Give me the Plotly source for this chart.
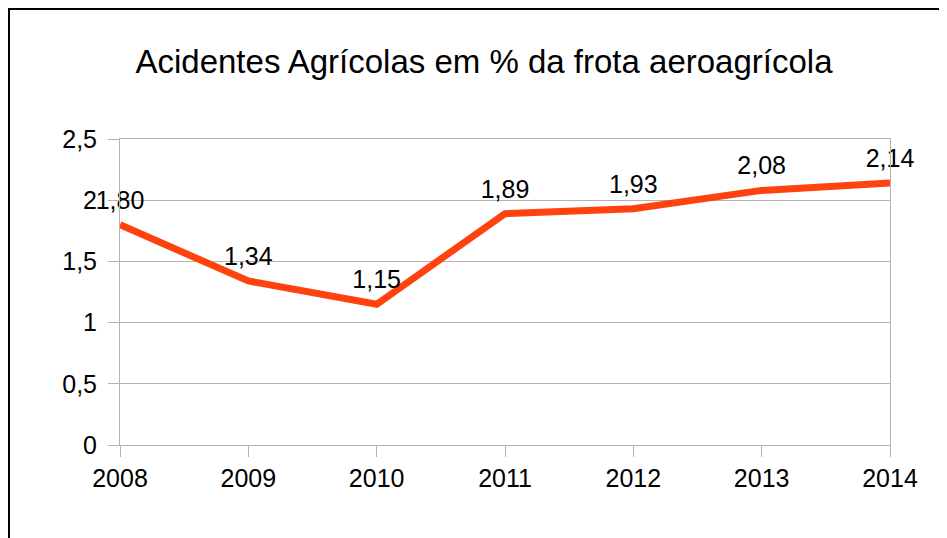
import plotly.graph_objects as go

years = [2008, 2009, 2010, 2011, 2012, 2013, 2014]
values = [1.80, 1.34, 1.15, 1.89, 1.93, 2.08, 2.14]
labels = ["1,80", "1,34", "1,15", "1,89", "1,93", "2,08", "2,14"]
title_text = "Acidentes Agrícolas em % da frota aeroagrícola"

# page has 8px body margin; compensate so the chart lands at the window origin
OFF = 8
W, H = 947 - OFF, 538 - OFF
L, R, T, B = 120 - OFF, 57, 139 - OFF, 93
pw, ph = W - L - R, H - T - B

fig = go.Figure()
fig.add_trace(go.Scatter(
    x=years, y=values, mode="lines+markers+text",
    text=labels, textposition="top center",
    textfont=dict(family="Liberation Sans, Arial", size=25, color="#000000"),
    line=dict(color="#FF420E", width=7),
    marker=dict(size=14, color="rgba(0,0,0,0)"),
    cliponaxis=False, showlegend=False, hoverinfo="skip",
))

def px_x(p):
    return (p - OFF - L) / pw

def px_y(p):
    return (H - B - (p - OFF)) / ph

fig.add_shape(type="rect", xref="paper", yref="paper",
              x0=px_x(9), x1=px_x(970), y0=px_y(9), y1=px_y(580),
              line=dict(color="#000000", width=2), layer="below")

fig.update_layout(
    width=W, height=H,
    margin=dict(l=L, r=R, t=T, b=B),
    paper_bgcolor="white", plot_bgcolor="white",
    separators=",.",
    font=dict(family="Liberation Sans, Arial", size=25, color="#000000"),
    title=dict(text=title_text, x=(484 - OFF) / W, xanchor="center",
               y=1 - (61 - OFF) / H, yanchor="middle", yref="container",
               font=dict(size=33, color="#000000")),
    xaxis=dict(range=[2008, 2014], tickmode="array", tickvals=years,
               ticktext=[str(y) for y in years],
               showgrid=False, zeroline=False,
               showline=True, linecolor="#b3b3b3", linewidth=1, mirror=True,
               ticks="outside", ticklen=11, tickcolor="#b3b3b3", tickwidth=1,
               tickfont=dict(size=25)),
    yaxis=dict(range=[0, 2.5], tickmode="array",
               tickvals=[0, 0.5, 1, 1.5, 2, 2.5],
               ticktext=["0", "0,5", "1", "1,5", "2", "2,5"],
               showgrid=True, gridcolor="#b3b3b3", gridwidth=1,
               zeroline=False,
               showline=True, linecolor="#b3b3b3", linewidth=1, mirror=True,
               ticks="outside", ticklen=11, tickcolor="#b3b3b3", tickwidth=1,
               ticklabelstandoff=6,
               tickfont=dict(size=25)),
)

fig.write_html("out.html")
